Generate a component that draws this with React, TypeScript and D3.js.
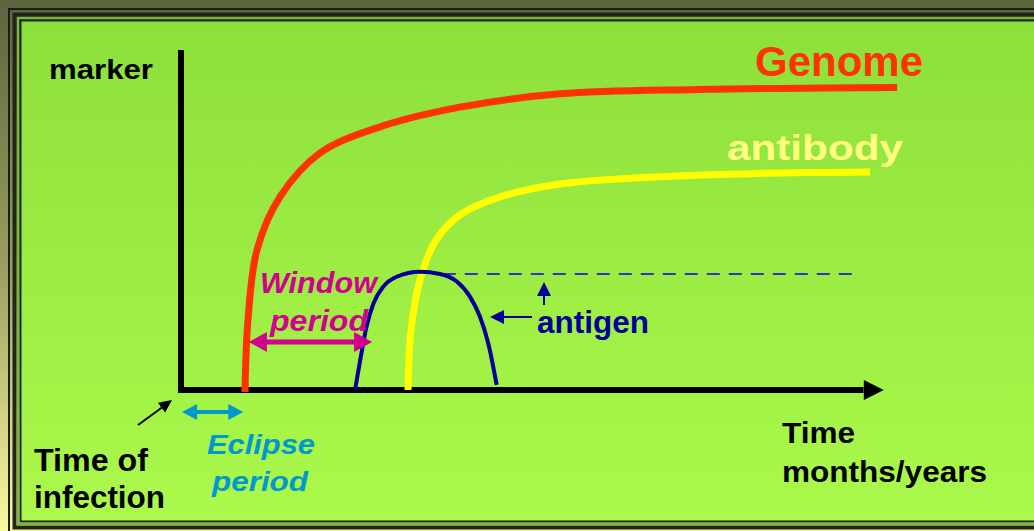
import React from 'react';
import * as d3 from 'd3';

const W = 1034;
const H = 531;

// time axis values (arbitrary units) and marker levels (0-100)
const genomeTime = [9.14, 9.57, 10.86, 14.14, 19.86, 28.43, 39.86, 54.14, 74.14, 102.29];
const genomeLevel = [-0.6, 20.6, 41.2, 56.8, 69.7, 77.4, 83.2, 87.1, 88.4, 89];

const antibodyTime = [32.43, 32.86, 34.14, 36.43, 39.86, 45.57, 54.14, 67, 82.71, 98.43];
const antibodyLevel = [0, 17.6, 32.4, 44.1, 51.5, 56.8, 60.6, 62.6, 63.7, 64.1];

const antigenTime = [24.9, 25.6, 26.5, 27.5, 28.9, 30.8, 34.1, 37, 39.4, 41.3, 42.7, 43.9, 45.1];
const antigenLevel = [0.5, 8.8, 18.6, 25.5, 30.4, 33.3, 34.8, 34.1, 31.9, 27.4, 21.6, 13.7, 1.5];

const thresholdLevel = 34.1;
const thresholdRange = [37.4, 96.3];
const eclipseRange = [0.15, 8.9];
const windowRange = [9.7, 27.3];

const FONT = "'Liberation Sans', Arial, Helvetica, sans-serif";

function doubleArrow(x1: number, x2: number, y: number, hl: number, hw: number, sw: number) {
  const s = sw / 2;
  return [
    [x1, y], [x1 + hl, y - hw], [x1 + hl, y - s], [x2 - hl, y - s], [x2 - hl, y - hw],
    [x2, y], [x2 - hl, y + hw], [x2 - hl, y + s], [x1 + hl, y + s], [x1 + hl, y + hw],
  ].map(p => p.join(',')).join(' ');
}

function tri(tx: number, ty: number, angle: number, hl: number, hw: number) {
  const bx = tx - hl * Math.cos(angle);
  const by = ty - hl * Math.sin(angle);
  const px = -Math.sin(angle) * hw;
  const py = Math.cos(angle) * hw;
  return `${tx},${ty} ${bx + px},${by + py} ${bx - px},${by - py}`;
}

export default function App() {
  const x = d3.scaleLinear().domain([0, 100]).range([181, 881]);
  const y = d3.scaleLinear().domain([0, 100]).range([390, 50]);

  const smooth = d3
    .line<[number, number]>()
    .x(d => x(d[0]))
    .y(d => y(d[1]))
    .curve(d3.curveCatmullRom.alpha(0.5));
  const mono = d3
    .line<[number, number]>()
    .x(d => x(d[0]))
    .y(d => y(d[1]))
    .curve(d3.curveMonotoneX);

  const genome = smooth(genomeTime.map((t, i) => [t, genomeLevel[i]]) as [number, number][]) || '';
  const antibody = smooth(antibodyTime.map((t, i) => [t, antibodyLevel[i]]) as [number, number][]) || '';
  const antigen = mono(antigenTime.map((t, i) => [t, antigenLevel[i]]) as [number, number][]) || '';

  const FW = 1060;
  const FH = 542;

  return (
    <svg width={W} height={H} style={{ position: 'absolute', left: 0, top: 0 }} fontFamily={FONT}>
      <defs>
        <linearGradient id="outer" x1="0" y1="0" x2="0" y2="1">
          <stop offset="0%" stopColor="#5c6440" />
          <stop offset="50%" stopColor="#9a9e5e" />
          <stop offset="100%" stopColor="#fcf8a0" />
        </linearGradient>
        <linearGradient id="inner" x1="0" y1="0" x2="0" y2="1">
          <stop offset="0%" stopColor="#8ddf3b" />
          <stop offset="100%" stopColor="#abf94b" />
        </linearGradient>
      </defs>
      <rect x={0} y={0} width={W} height={H} fill="url(#outer)" />
      <rect x={9} y={9} width={FW - 18} height={FH - 18} fill="none" stroke="#1a1f10" strokeWidth={2} />
      <rect x={14.5} y={14.5} width={FW - 29} height={FH - 29} fill="none" stroke="#20261a" strokeWidth={4} />
      <rect x={18} y={18} width={FW - 36} height={FH - 36} fill="none" stroke="#72bd36" strokeWidth={2} />
      <rect x={20.5} y={20.5} width={FW - 41} height={FH - 41} fill="url(#inner)" stroke="#20261a" strokeWidth={2} />

      {/* axes */}
      <line x1={x(0)} y1={y(100)} x2={x(0)} y2={y(0) + 3} stroke="#000" strokeWidth={6} />
      <line x1={x(0) - 3} y1={y(0)} x2={x(97.5)} y2={y(0)} stroke="#000" strokeWidth={6} />
      <polygon points={tri(x(100.4), y(0), 0, 20, 10)} fill="#000" />

      {/* threshold */}
      <line
        x1={x(thresholdRange[0])}
        x2={x(thresholdRange[1])}
        y1={y(thresholdLevel)}
        y2={y(thresholdLevel)}
        stroke="#3333cc"
        strokeWidth={2}
        strokeDasharray="13 9"
      />

      {/* curves */}
      <path d={genome} fill="none" stroke="#ff3300" strokeWidth={7} />
      <path d={antibody} fill="none" stroke="#ffff00" strokeWidth={7} />
      <path d={antigen} fill="none" stroke="#000099" strokeWidth={4} />

      {/* labels */}
      <text x={49} y={79} fontSize={27} fontWeight="bold" fill="#000" textLength={104} lengthAdjust="spacingAndGlyphs">marker</text>
      <text x={755} y={76} fontSize={42} fontWeight="bold" fill="#ff3300" textLength={168} lengthAdjust="spacingAndGlyphs">Genome</text>
      <text x={727} y={160} fontSize={35} fontWeight="bold" fill="#ffff80" textLength={176} lengthAdjust="spacingAndGlyphs">antibody</text>
      <text x={537} y={333} fontSize={31} fontWeight="bold" fill="#000099" textLength={112} lengthAdjust="spacingAndGlyphs">antigen</text>

      {/* antigen arrows */}
      <line x1={544} y1={305} x2={544} y2={294} stroke="#000099" strokeWidth={2} />
      <polygon points={tri(544, 282, -Math.PI / 2, 14, 7)} fill="#000099" />
      <line x1={532} y1={317} x2={502} y2={317} stroke="#000099" strokeWidth={2} />
      <polygon points={tri(490, 317, Math.PI, 14, 7)} fill="#000099" />

      {/* window period */}
      <text x={260} y={293} fontSize={29} fontWeight="bold" fontStyle="italic" fill="#d1008f" textLength={117} lengthAdjust="spacingAndGlyphs">Window</text>
      <text x={270} y={331} fontSize={29} fontWeight="bold" fontStyle="italic" fill="#d1008f" textLength={98} lengthAdjust="spacingAndGlyphs">period</text>
      <polygon points={doubleArrow(x(windowRange[0]), x(windowRange[1]), 342, 18, 10, 5)} fill="#d1008f" />

      {/* eclipse period */}
      <polygon points={doubleArrow(x(eclipseRange[0]), x(eclipseRange[1]), 412, 15, 8, 4)} fill="#0099cc" />
      <text x={207} y={454} fontSize={28} fontWeight="bold" fontStyle="italic" fill="#0099cc" textLength={108} lengthAdjust="spacingAndGlyphs">Eclipse</text>
      <text x={212} y={491} fontSize={28} fontWeight="bold" fontStyle="italic" fill="#0099cc" textLength={96} lengthAdjust="spacingAndGlyphs">period</text>

      {/* time of infection */}
      <line x1={138} y1={425} x2={164} y2={406} stroke="#000" strokeWidth={2} />
      <polygon points={tri(172, 400, Math.atan2(-25, 34), 13, 6)} fill="#000" />
      <text x={34} y={471} fontSize={31} fontWeight="bold" fill="#000" textLength={114} lengthAdjust="spacingAndGlyphs">Time of</text>
      <text x={34} y={508} fontSize={31} fontWeight="bold" fill="#000" textLength={131} lengthAdjust="spacingAndGlyphs">infection</text>

      {/* x axis label */}
      <text x={782} y={443} fontSize={30} fontWeight="bold" fill="#000" textLength={73} lengthAdjust="spacingAndGlyphs">Time</text>
      <text x={782} y={482} fontSize={30} fontWeight="bold" fill="#000" textLength={205} lengthAdjust="spacingAndGlyphs">months/years</text>
    </svg>
  );
}
